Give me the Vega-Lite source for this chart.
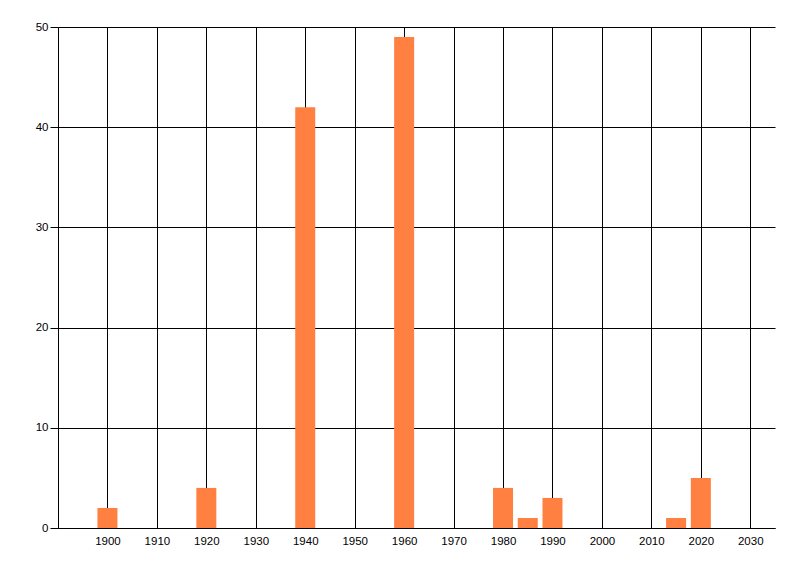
{
  "$schema": "https://vega.github.io/schema/vega-lite/v6.json",
  "width": 717,
  "height": 501,
  "autosize": {"type": "none"},
  "padding": {"left": 58, "top": 27, "right": 25, "bottom": 48},
  "background": "white",
  "data": {
    "values": [
      {"year": 1900, "count": 2},
      {"year": 1920, "count": 4},
      {"year": 1940, "count": 42},
      {"year": 1960, "count": 49},
      {"year": 1980, "count": 4},
      {"year": 1985, "count": 1},
      {"year": 1990, "count": 3},
      {"year": 2015, "count": 1},
      {"year": 2020, "count": 5}
    ]
  },
  "mark": {"type": "bar", "size": 20, "color": "#FF8040"},
  "encoding": {
    "x": {
      "field": "year",
      "type": "quantitative",
      "scale": {"domain": [1890, 2035], "nice": false, "zero": false, "padding": 0},
      "axis": {
        "values": [1900, 1910, 1920, 1930, 1940, 1950, 1960, 1970, 1980, 1990, 2000, 2010, 2020, 2030],
        "format": "d",
        "title": null,
        "grid": true,
        "gridColor": "black",
        "gridOpacity": 1,
        "gridWidth": 1,
        "ticks": false,
        "tickSize": 0,
        "labelPadding": 7,
        "domainColor": "black",
        "domainWidth": 1,
        "labelFont": "Liberation Sans",
        "labelFontSize": 11.5,
        "labelColor": "black",
        "labelFlush": false
      }
    },
    "y": {
      "field": "count",
      "type": "quantitative",
      "scale": {"domain": [0, 50], "nice": false},
      "axis": {
        "values": [0, 10, 20, 30, 40, 50],
        "title": null,
        "grid": true,
        "gridColor": "black",
        "gridOpacity": 1,
        "gridWidth": 1,
        "ticks": true,
        "tickSize": 8,
        "tickColor": "black",
        "tickWidth": 1,
        "labelPadding": 2,
        "domainColor": "black",
        "domainWidth": 1,
        "labelFont": "Liberation Sans",
        "labelFontSize": 11.5,
        "labelColor": "black",
        "labelFlush": false
      }
    }
  },
  "config": {"view": {"stroke": null}}
}
